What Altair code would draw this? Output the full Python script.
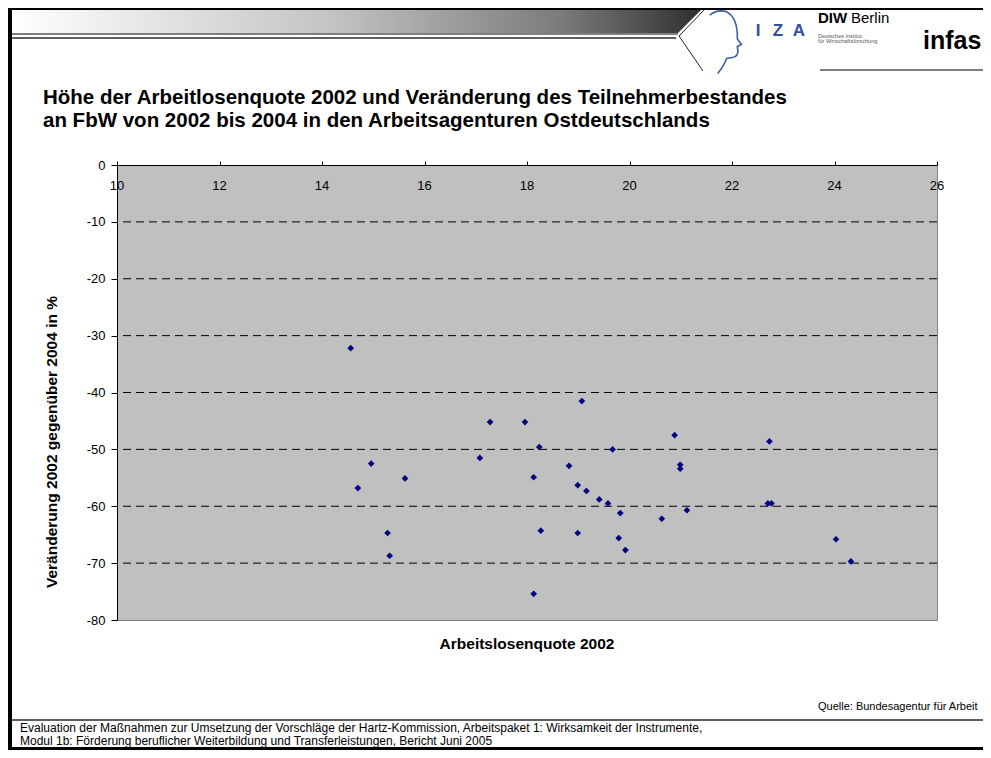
import altair as alt
import pandas as pd

# ---------------- data ----------------
arbeitslosenquote = [14.56, 19.07, 17.28, 17.96, 18.24, 19.67, 14.96, 17.08, 18.82, 18.13,
                     15.62, 14.70, 18.99, 19.16, 19.41, 19.58, 19.82, 20.63, 15.28, 18.27,
                     18.99, 19.79, 19.92, 15.32, 18.13, 20.88, 22.73, 20.99, 20.99, 22.70,
                     22.77, 21.12, 24.03, 24.32]
veraenderung = [-32.2, -41.5, -45.2, -45.2, -49.6, -50.0, -52.5, -51.5, -52.9, -54.9,
                -55.1, -56.8, -56.3, -57.3, -58.8, -59.5, -61.2, -62.2, -64.7, -64.3,
                -64.7, -65.6, -67.7, -68.7, -75.4, -47.5, -48.6, -52.7, -53.4, -59.5,
                -59.5, -60.7, -65.8, -69.7]
x_ticks = [10, 12, 14, 16, 18, 20, 22, 24, 26]
y_ticks = [0, -10, -20, -30, -40, -50, -60, -70, -80]
grid_values = [-10, -20, -30, -40, -50, -60, -70]

title_lines = ["Höhe der Arbeitlosenquote 2002 und Veränderung des Teilnehmerbestandes",
               "an FbW von 2002 bis 2004 in den Arbeitsagenturen Ostdeutschlands"]
x_title = "Arbeitslosenquote 2002"
y_title = "Veränderung 2002 gegenüber 2004 in %"
source = "Quelle: Bundesagentur für Arbeit"
footer_lines = ["Evaluation der Maßnahmen zur Umsetzung der Vorschläge der Hartz-Kommission, Arbeitspaket 1: Wirksamkeit der Instrumente,",
                "Modul 1b: Förderung beruflicher Weiterbildung und Transferleistungen, Bericht Juni 2005"]

FONT = "Liberation Sans, Arial, Helvetica, sans-serif"

df = pd.DataFrame({"quote": arbeitslosenquote, "veraenderung": veraenderung})
one = pd.DataFrame({"k": [0]})

xscale = alt.Scale(domain=[10, 26], nice=False, zero=False)
yscale = alt.Scale(domain=[-80, 0], nice=False, zero=False)
x_axis = alt.Axis(orient="top", values=x_ticks, labels=False, ticks=True,
                  tickSize=4, tickColor="black", domainColor="black",
                  grid=False, title=None)
y_axis = alt.Axis(orient="left", values=y_ticks, grid=False, title=None,
                  tickSize=6, tickColor="black", domainColor="black",
                  labelFont=FONT, labelFontSize=13, labelColor="black",
                  labelPadding=6,
                  labelExpr="replace(datum.label, '\u2212', '-')")


def txt(s, x, y, size, weight="normal", align="left", baseline="alphabetic",
        color="black", angle=None, font=FONT):
    kw = dict(align=align, baseline=baseline, fontSize=size, fontWeight=weight,
              color=color, font=font)
    if angle is not None:
        kw["angle"] = angle
    return alt.Chart(one).mark_text(**kw).encode(
        x=alt.value(x), y=alt.value(y), text=alt.value(s))


def box(x, x2, y, y2, color):
    return alt.Chart(one).mark_rect(color=color).encode(
        x=alt.value(x), x2=alt.value(x2), y=alt.value(y), y2=alt.value(y2))


def seg(x, y, x2, y2, color="black", w=1):
    return alt.Chart(one).mark_rule(color=color, strokeWidth=w).encode(
        x=alt.value(x), y=alt.value(y), x2=alt.value(x2), y2=alt.value(y2))


# ---------------- slide decoration (pixel positions relative to plot origin) ----------------
grad = alt.Gradient(gradient="linear", x1=0, x2=1, y1=0, y2=0, stops=[
    alt.GradientStop(color="#FFFFFF", offset=0),
    alt.GradientStop(color="#C4C4C4", offset=0.46),
    alt.GradientStop(color="#7A7A7A", offset=0.80),
    alt.GradientStop(color="#2E2E2E", offset=1)])
header_bar = alt.Chart(one).mark_rect(color=grad).encode(
    x=alt.value(-105), x2=alt.value(585), y=alt.value(-156), y2=alt.value(-132))
cover = alt.Chart(one).mark_point(shape="M-1,1L1,-1L1,1Z", size=576, filled=True,
                                  color="white", opacity=1, strokeWidth=0).encode(
    x=alt.value(573), y=alt.value(-144))
head_path = ("M-0.45,-0.85 Q-0.2,-1.05 0.1,-0.95 Q0.38,-0.8 0.42,-0.3 L0.42,-0.1 "
             "L0.55,0.08 L0.42,0.14 L0.44,0.28 Q0.44,0.45 0.3,0.48 L0.08,0.52 Q0,0.75 -0.2,1")
head = alt.Chart(one).mark_point(shape=head_path, size=4000, filled=False,
                                 color="#3D5BA9", strokeWidth=1.6, opacity=1).encode(
    x=alt.value(607), y=alt.value(-123))

decor = [
    header_bar, cover,
    box(-105, 561, -132, -130, "#7F7F7F"),
    box(-105, 559, -128, -126, "#606060"),
    seg(588, -156, 562, -129, "#222222", 1),
    seg(562, -129, 586, -94, "#222222", 1),
    head,
    txt("I", 641, -129, 17, "bold", "center", color="#2F4FA0"),
    txt("Z", 661, -129, 17, "bold", "center", color="#2F4FA0"),
    txt("A", 682, -129, 17, "bold", "center", color="#2F4FA0"),
    txt("DIW", 701, -142, 15, "bold"),
    txt("Berlin", 734, -142, 15),
    txt("Deutsches Institut", 701, -127, 5.5, color="#555555"),
    txt("für Wirtschaftsforschung", 701, -122, 5.5, color="#555555"),
    txt("infas", 806, -116, 25, "bold"),
    seg(703, -95, 866, -95, "black", 1),
    box(-109, 866, -157, -155, "black"),          # top border
    box(-109, -105, -157, 585, "black"),          # left border
    box(-109, 866, 582, 585, "black"),            # bottom border
    box(-105, 866, 554, 556, "#606060"),          # footer separator
    txt(title_lines[0], -74, -61, 20.5, "bold"),
    txt(title_lines[1], -74, -38, 20.5, "bold"),
    txt(y_title, -65, 277, 15.5, "bold", "center", "middle", angle=270),
    txt(x_title, 410, 479, 15.5, "bold", "center", "middle"),
    txt(source, 701, 542, 11, baseline="middle"),
    txt(footer_lines[0], -97, 563, 12, baseline="middle"),
    txt(footer_lines[1], -97, 576, 12, baseline="middle"),
]

# ---------------- chart ----------------
gridlines = alt.Chart(pd.DataFrame({"g": grid_values})).mark_rule(
    color="black", strokeDash=[8, 5], strokeWidth=1).encode(
    y=alt.Y("g:Q", scale=yscale, axis=y_axis))

points = alt.Chart(df).mark_point(shape="diamond", filled=True, size=45,
                                  color="#000080", opacity=1).encode(
    x=alt.X("quote:Q", scale=xscale, axis=x_axis),
    y=alt.Y("veraenderung:Q", scale=yscale, axis=y_axis))

xlabels = alt.Chart(pd.DataFrame({"t": x_ticks})).mark_text(
    font=FONT, fontSize=13, color="black", baseline="middle").encode(
    x=alt.X("t:Q", scale=xscale, axis=x_axis), y=alt.value(21), text="t:Q")

chart = alt.layer(*decor, gridlines, points, xlabels).properties(
    width=820, height=455,
    padding={"left": 109, "top": 157, "right": 46, "bottom": 130},
    autosize=alt.AutoSizeParams(type="none"),
    background="white",
).configure_view(fill="#C0C0C0", stroke="#808080", strokeWidth=1)

chart.save("out.html", embed_options={"renderer": "svg", "actions": False})
